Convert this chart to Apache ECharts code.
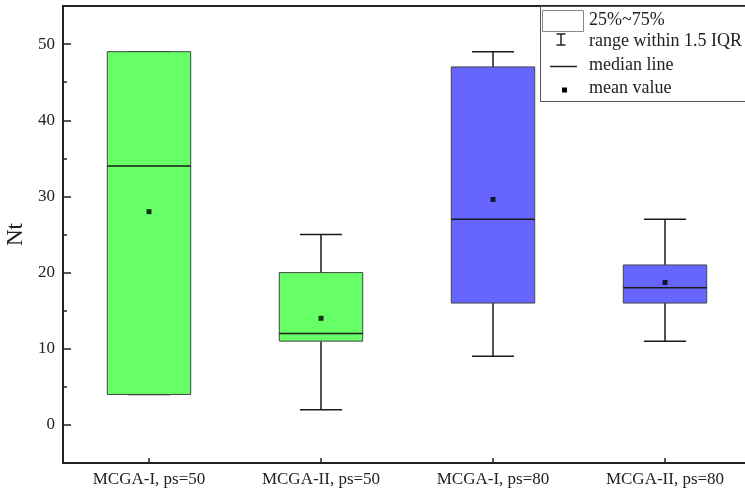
<!DOCTYPE html>
<html>
<head>
<meta charset="utf-8">
<script src="https://cdn.jsdelivr.net/npm/echarts@6/dist/echarts.min.js"></script>
<style>
  html, body { margin: 0; padding: 0; background: #fff; }
  #chart { width: 745px; height: 490px; }
</style>
</head>
<body>
<div id="chart"></div>
<script>
// categories along x
const categories = ["MCGA-I, ps=50", "MCGA-II, ps=50", "MCGA-I, ps=80", "MCGA-II, ps=80"];
// box statistics
const lowWhisker = [4, 2, 9, 11];
const q1Values = [4, 11, 16, 16];
const medianValues = [34, 12, 27, 18];
const q3Values = [49, 20, 47, 21];
const highWhisker = [49, 25, 49, 27];
const meanValues = [28, 14, 29.6, 18.7];
// y tick labels
const yMajorTicks = [0, 10, 20, 30, 40, 50];
const yMinorTicks = [5, 15, 25, 35, 45];

const boxColors = ["#66FF66", "#66FF66", "#6666FF", "#6666FF"];
const serif = "'Liberation Serif', 'Times New Roman', serif";

const chart = echarts.init(document.getElementById("chart"));

// data rows for the custom box series: [index, low, q1, median, q3, high]
const boxData = categories.map((c, i) => [i, lowWhisker[i], q1Values[i], medianValues[i], q3Values[i], highWhisker[i]]);
const meanData = categories.map((c, i) => [i, meanValues[i]]);

function renderBox(params, api) {
  const idx = api.value(0);
  const pLow = api.coord([idx, api.value(1)]);
  const pQ1 = api.coord([idx, api.value(2)]);
  const pMed = api.coord([idx, api.value(3)]);
  const pQ3 = api.coord([idx, api.value(4)]);
  const pHigh = api.coord([idx, api.value(5)]);
  const band = api.size([1, 0])[0];
  const boxW = band * 0.485;
  const capW = band * 0.245;
  const cx = pMed[0];
  const lineStyle = { stroke: "#1a1a1a", lineWidth: 1.5 };
  return {
    type: "group",
    children: [
      { type: "line", shape: { x1: cx, y1: pLow[1], x2: cx, y2: pQ1[1] }, style: lineStyle },
      { type: "line", shape: { x1: cx, y1: pQ3[1], x2: cx, y2: pHigh[1] }, style: lineStyle },
      { type: "line", shape: { x1: cx - capW / 2, y1: pLow[1], x2: cx + capW / 2, y2: pLow[1] }, style: lineStyle },
      { type: "line", shape: { x1: cx - capW / 2, y1: pHigh[1], x2: cx + capW / 2, y2: pHigh[1] }, style: lineStyle },
      {
        type: "rect",
        shape: { x: cx - boxW / 2, y: pQ3[1], width: boxW, height: pQ1[1] - pQ3[1] },
        style: { fill: boxColors[idx], stroke: "#444", lineWidth: 1 }
      },
      { type: "line", shape: { x1: cx - boxW / 2, y1: pMed[1], x2: cx + boxW / 2, y2: pMed[1] }, style: lineStyle }
    ]
  };
}

const option = {
  backgroundColor: "#fff",
  animation: false,
  grid: {
    left: 63, top: 6, width: 688, bottom: 27,
    outerBoundsMode: "none",
    containLabel: false,
    show: true, borderColor: "#222", borderWidth: 2, backgroundColor: "transparent"
  },
  xAxis: {
    type: "category",
    data: categories,
    axisLine: { show: true, onZero: false, lineStyle: { color: "#222", width: 2 } },
    axisTick: { show: true, inside: true, length: 5, alignWithLabel: true, lineStyle: { color: "#222", width: 1.5 } },
    axisLabel: { color: "#222", fontFamily: serif, fontSize: 17, margin: 8 },
    splitLine: { show: false }
  },
  yAxis: [
    {
      type: "value",
      min: -5, max: 55, interval: 5,
      name: "Nt",
      nameLocation: "middle",
      nameGap: 30,
      nameRotate: 90,
      nameTextStyle: { color: "#222", fontFamily: serif, fontSize: 23 },
      axisLine: { show: true, lineStyle: { color: "#222", width: 2 } },
      axisTick: { show: true, inside: true, length: 8, customValues: yMajorTicks, lineStyle: { color: "#222", width: 1.5 } },
      axisLabel: { customValues: yMajorTicks, color: "#222", fontFamily: serif, fontSize: 17, margin: 8 },
      splitLine: { show: false }
    },
    {
      type: "value",
      min: -5, max: 55, interval: 5,
      position: "left",
      offset: 0,
      axisLine: { show: false },
      axisTick: { show: true, inside: true, length: 4, customValues: yMinorTicks, lineStyle: { color: "#222", width: 1.5 } },
      axisLabel: { show: false },
      splitLine: { show: false }
    }
  ],
  series: [
    {
      type: "custom",
      renderItem: renderBox,
      data: boxData,
      encode: { x: 0, y: [1, 2, 3, 4, 5] },
      z: 2
    },
    {
      type: "scatter",
      data: meanData,
      symbol: "rect",
      symbolSize: 5,
      itemStyle: { color: "#000" },
      z: 3
    }
  ],
  graphic: [
    { type: "rect", z: 10, shape: { x: 540.5, y: 6.5, width: 230, height: 95 }, style: { fill: "#fff", stroke: "#555", lineWidth: 1 } },
    { type: "rect", z: 11, shape: { x: 542.5, y: 10.5, width: 41, height: 21 }, style: { fill: "#fff", stroke: "#888", lineWidth: 1 } },
    { type: "text", z: 11, x: 589, y: 20, style: { text: "25%~75%", fill: "#222", font: "18px " + serif, verticalAlign: "middle" } },
    { type: "line", z: 11, shape: { x1: 561, y1: 34, x2: 561, y2: 45 }, style: { stroke: "#222", lineWidth: 1.5 } },
    { type: "line", z: 11, shape: { x1: 556.5, y1: 34, x2: 565.5, y2: 34 }, style: { stroke: "#222", lineWidth: 1.5 } },
    { type: "line", z: 11, shape: { x1: 556.5, y1: 45, x2: 565.5, y2: 45 }, style: { stroke: "#222", lineWidth: 1.5 } },
    { type: "text", z: 11, x: 589, y: 41, style: { text: "range within 1.5 IQR", fill: "#222", font: "18px " + serif, verticalAlign: "middle" } },
    { type: "line", z: 11, shape: { x1: 550, y1: 66.5, x2: 577, y2: 66.5 }, style: { stroke: "#222", lineWidth: 1.5 } },
    { type: "text", z: 11, x: 589, y: 65, style: { text: "median line", fill: "#222", font: "18px " + serif, verticalAlign: "middle" } },
    { type: "rect", z: 11, shape: { x: 562, y: 87.5, width: 5, height: 5 }, style: { fill: "#000" } },
    { type: "text", z: 11, x: 589, y: 88, style: { text: "mean value", fill: "#222", font: "18px " + serif, verticalAlign: "middle" } }
  ]
};

chart.setOption(option);
</script>
</body>
</html>
